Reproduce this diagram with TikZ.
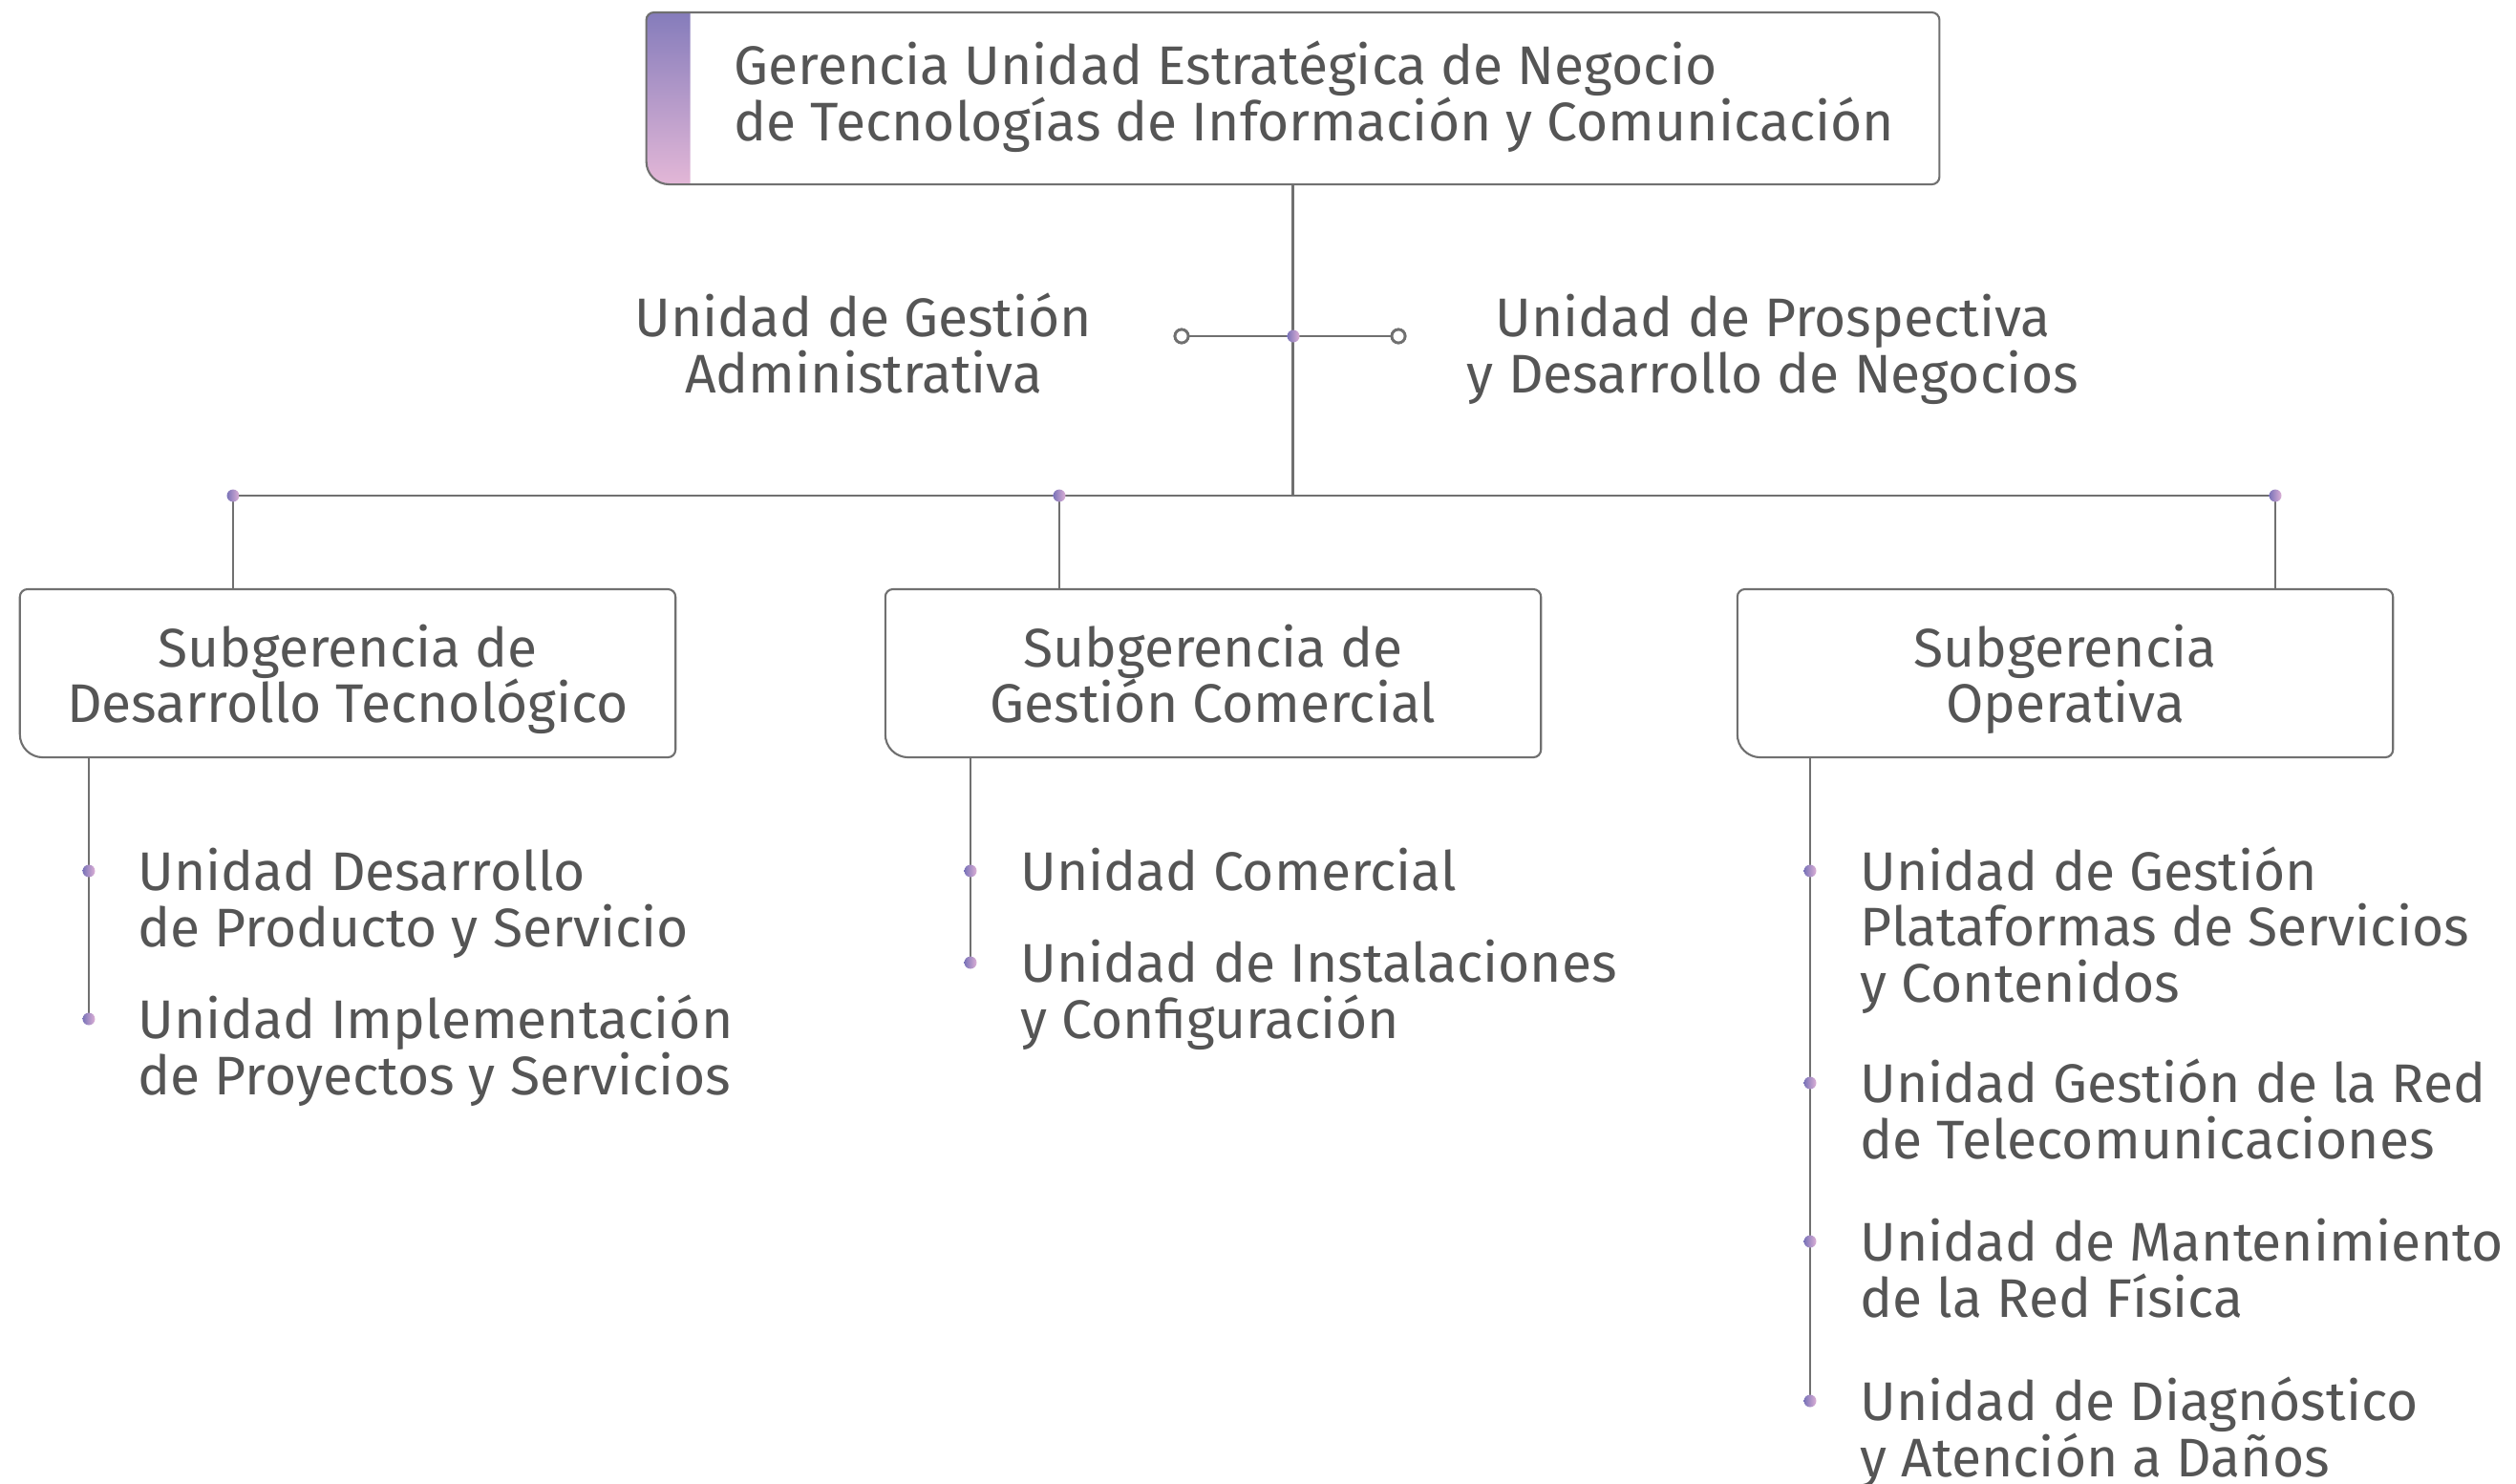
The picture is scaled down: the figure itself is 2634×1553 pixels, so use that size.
\documentclass[tikz,border=0pt]{standalone}
\usepackage{fontspec}
\setmainfont{Fira Sans}
\usetikzlibrary{calc}
\definecolor{ink}{HTML}{555555}
\definecolor{linec}{HTML}{707070}
\definecolor{barT}{HTML}{857CBB}
\definecolor{barB}{HTML}{E3B7D7}
\definecolor{dotL}{HTML}{7A73B8}
\definecolor{dotR}{HTML}{DDB0D6}
\newcommand{\orgframe}[1]{%
  \draw[frame] ([xshift=0.08cm]#1.north west) -- ([xshift=-0.08cm]#1.north east)
    arc[start angle=90,end angle=0,radius=0.08cm] -- ([yshift=0.08cm]#1.south east)
    arc[start angle=0,end angle=-90,radius=0.08cm] -- ([xshift=0.24cm]#1.south west)
    arc[start angle=270,end angle=180,radius=0.24cm] -- ([yshift=-0.08cm]#1.north west)
    arc[start angle=180,end angle=90,radius=0.08cm] -- cycle;}
\begin{document}
\begin{tikzpicture}
  [x=0.01cm,y=0.01cm,
   frame/.style={draw=linec,line width=0.6pt},
   conn/.style={draw=linec,line width=0.6pt},
   unitbox/.style={minimum width=6.86cm,minimum height=1.76cm,inner sep=0pt,outer sep=0pt,align=center,text depth=0pt},
   item/.style={anchor=base west,align=left,inner sep=0pt},
   side/.style={anchor=base,align=center,inner sep=0pt},
   jdot/.style={circle,inner sep=0pt,minimum size=0.13cm,left color=dotL,right color=dotR},
   ring/.style={circle,inner sep=0pt,minimum size=0.14cm,draw=linec,line width=0.8pt,fill=white}]
  \tikzstyle{every node}=[text=ink,font=\fontsize{16.2}{16.6}\selectfont]
  \useasboundingbox (0,0) rectangle (2634,-1553);
  % top box
  \node[minimum width=13.53cm,minimum height=1.80cm,inner sep=0pt,outer sep=0pt] (g) at (1353.5,-103) {};
  \shade[top color=barT,bottom color=barB] ([xshift=0.46cm]g.north west) -- ([xshift=0.46cm]g.south west)
    -- ([xshift=0.24cm]g.south west) arc[start angle=270,end angle=180,radius=0.24cm]
    -- ([yshift=-0.08cm]g.north west) arc[start angle=180,end angle=90,radius=0.08cm] -- cycle;
  \orgframe{g}
  \node[item] (gtext) at (768,-147) {Gerencia Unidad Estratégica de Negocio\\de Tecnologías de Información y Comunicación};
  % staff units
  \coordinate (hub) at (1354,-352);
  \node[ring] (ga) at (1237,-352) {};
  \node[ring] (pd) at (1464,-352) {};
  \node[side] (gatext) at (904,-411) {Unidad de Gestión\\Administrativa};
  \node[side] (pdtext) at (1856,-411) {Unidad de Prospectiva\\y Desarrollo de Negocios};
  % subgerencias
  \node[unitbox] (sdt) at (364,-705) {Subgerencia de\\Desarrollo Tecnológico};
  \node[unitbox] (sgc) at (1270,-705) {Subgerencia de\\Gestión Comercial};
  \node[unitbox] (sop) at (2162,-705) {Subgerencia\\Operativa};
  \orgframe{sdt}
  \orgframe{sgc}
  \orgframe{sop}
  \coordinate (b1) at (244,-519);
  \coordinate (b2) at (1109,-519);
  \coordinate (b3) at (2382,-519);
  % units
  \coordinate (l1) at (93,-912);
  \coordinate (l2) at (93,-1067);
  \coordinate (m1) at (1016,-912);
  \coordinate (m2) at (1016,-1008);
  \coordinate (r1) at (1895,-912);
  \coordinate (r2) at (1895,-1134);
  \coordinate (r3) at (1895,-1300);
  \coordinate (r4) at (1895,-1467);
  \node[item] (l1t) at ($(l1)+(51,-79)$) {Unidad Desarrollo\\de Producto y Servicio};
  \node[item] (l2t) at ($(l2)+(51,-79)$) {Unidad Implementación\\de Proyectos y Servicios};
  \node[item] (m1t) at ($(m1)+(52,-20)$) {Unidad Comercial};
  \node[item] (m2t) at ($(m2)+(52,-79)$) {Unidad de Instalaciones\\y Configuración};
  \node[item] (r1t) at ($(r1)+(52,-137)$) {Unidad de Gestión\\Plataformas de Servicios\\y Contenidos};
  \node[item] (r2t) at ($(r2)+(52,-79)$) {Unidad Gestión de la Red\\de Telecomunicaciones};
  \node[item] (r3t) at ($(r3)+(52,-79)$) {Unidad de Mantenimiento\\de la Red Física};
  \node[item] (r4t) at ($(r4)+(52,-79)$) {Unidad de Diagnóstico\\y Atención a Daños};
  % connectors
  \draw[conn] (g.south) -- (g.south |- b1);
  \draw[conn] (ga) -- (pd);
  \draw[conn] (b1) -- (b3);
  \draw[conn] (b1) -- (b1 |- sdt.north);
  \draw[conn] (b2) -- (b2 |- sgc.north);
  \draw[conn] (b3) -- (b3 |- sop.north);
  \draw[conn] (sdt.south -| l1) -- (l2);
  \draw[conn] (sgc.south -| m1) -- (m2);
  \draw[conn] (sop.south -| r1) -- (r4);
  \node[ring] at (ga) {};
  \node[ring] at (pd) {};
  \foreach \p in {hub,b1,b2,b3,l1,l2,m1,m2,r1,r2,r3,r4}
    \node[jdot] at (\p) {};
\end{tikzpicture}
\end{document}
